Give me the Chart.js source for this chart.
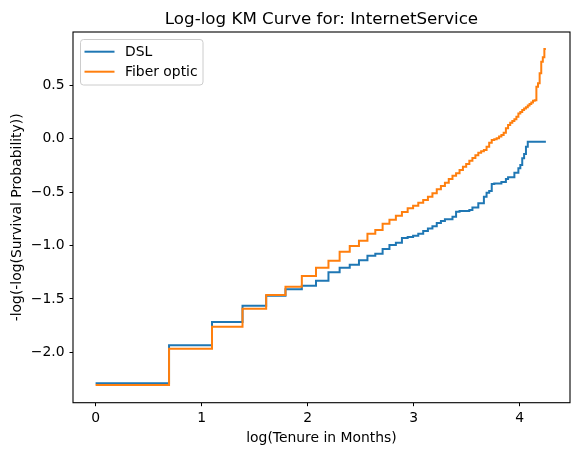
<!DOCTYPE html>
<html>
<head>
<meta charset="utf-8">
<script src="https://cdn.jsdelivr.net/npm/chart.js@4.4.1/dist/chart.umd.min.js"></script>
<style>
  html, body { margin: 0; padding: 0; background: #fff; }
  #grafico { display: block; }
</style>
</head>
<body>
<canvas id="grafico" width="578" height="455"></canvas>
<script>
// dados (tempo em meses, eixo x = log do tempo)
const tituloGrafico = 'Log-log KM Curve for: InternetService';
const rotuloX = 'log(Tenure in Months)';
const rotuloY = '-log(-log(Survival Probability))';
const nomesSeries = ['DSL', 'Fiber optic'];
const coresSeries = ['#1f77b4', '#ff7f0e'];

const meses = [1, 2, 3, 4, 5, 6, 7, 8, 9, 10, 11, 12, 13, 14, 15, 16, 17, 18, 19, 20,
  21, 22, 23, 24, 25, 26, 27, 28, 29, 30, 31, 32, 33, 34, 35, 36, 37, 38, 39, 40,
  41, 42, 43, 44, 45, 46, 47, 48, 49, 50, 51, 52, 53, 54, 55, 56, 57, 58, 59, 60,
  61, 62, 63, 64, 65, 66, 67, 68, 69, 70];

const valoresDSL = [-2.290, -1.934, -1.716, -1.564, -1.470, -1.410, -1.376, -1.330, -1.250, -1.208,
  -1.180, -1.138, -1.096, -1.077, -1.033, -0.995, -0.974, -0.930, -0.920, -0.908,
  -0.890, -0.865, -0.840, -0.820, -0.790, -0.770, -0.755, -0.755, -0.730, -0.683,
  -0.677, -0.677, -0.677, -0.668, -0.645, -0.645, -0.605, -0.605, -0.543, -0.505,
  -0.490, -0.425, -0.420, -0.420, -0.420, -0.405, -0.405, -0.377, -0.361, -0.361,
  -0.360, -0.318, -0.318, -0.277, -0.246, -0.184, -0.143, -0.075, -0.029, -0.029,
  -0.029, -0.029, -0.029, -0.029, -0.029, -0.029, -0.029, -0.029, -0.029, -0.029];

const valoresFibra = [-2.306, -1.966, -1.760, -1.592, -1.464, -1.386, -1.286, -1.208, -1.142, -1.058,
  -1.005, -0.955, -0.890, -0.855, -0.796, -0.758, -0.721, -0.687, -0.652, -0.627,
  -0.599, -0.574, -0.543, -0.511, -0.474, -0.443, -0.412, -0.377, -0.346, -0.324,
  -0.293, -0.262, -0.237, -0.206, -0.180, -0.155, -0.131, -0.118, -0.106, -0.075,
  -0.037, -0.012, -0.005, 0.003, 0.020, 0.034, 0.056, 0.097, 0.128, 0.150,
  0.165, 0.181, 0.206, 0.237, 0.250, 0.269, 0.282, 0.294, 0.310, 0.325,
  0.340, 0.356, 0.360, 0.487, 0.519, 0.612, 0.721, 0.762, 0.840, 0.840];

const ticksX = [0, 1, 2, 3, 4];
const rotulosTicksX = ['0', '1', '2', '3', '4'];
const ticksY = [0.5, 0.0, -0.5, -1.0, -1.5, -2.0];
const rotulosTicksY = ['0.5', '0.0', '\u22120.5', '\u22121.0', '\u22121.5', '\u22122.0'];

const fonte = 'DejaVu Sans';

function pontos(valores) {
    return meses.map((m, i) => ({ x: Math.log(m), y: valores[i] }));
}

// título, moldura e legenda no estilo matplotlib
const pluginExtras = {
    id: 'extras',
    afterDraw(chart) {
        const ctx = chart.ctx;
        const a = chart.chartArea;
        ctx.save();

        // moldura
        ctx.strokeStyle = '#000';
        ctx.lineWidth = 1.1;
        ctx.strokeRect(a.left, a.top, a.right - a.left, a.bottom - a.top);

        // título centrado sobre a área do gráfico
        ctx.fillStyle = '#000';
        ctx.font = '16.7px "' + fonte + '"';
        ctx.textAlign = 'center';
        ctx.textBaseline = 'alphabetic';
        ctx.fillText(tituloGrafico, (a.left + a.right) / 2, a.top - 8.3);

        // legenda (canto superior esquerdo)
        const lx = a.left + 7.5, ly = a.top + 7.5, lw = 122.5, lh = 45.5, r = 3;
        ctx.beginPath();
        ctx.moveTo(lx + r, ly);
        ctx.arcTo(lx + lw, ly, lx + lw, ly + lh, r);
        ctx.arcTo(lx + lw, ly + lh, lx, ly + lh, r);
        ctx.arcTo(lx, ly + lh, lx, ly, r);
        ctx.arcTo(lx, ly, lx + lw, ly, r);
        ctx.closePath();
        ctx.fillStyle = 'rgba(255,255,255,0.8)';
        ctx.fill();
        ctx.strokeStyle = '#cccccc';
        ctx.lineWidth = 1;
        ctx.stroke();

        ctx.font = '13.9px "' + fonte + '"';
        ctx.textAlign = 'left';
        ctx.textBaseline = 'middle';
        nomesSeries.forEach((nome, i) => {
            const y = ly + 12.2 + i * 20;
            ctx.strokeStyle = coresSeries[i];
            ctx.lineWidth = 2;
            ctx.beginPath();
            ctx.moveTo(lx + 4, y);
            ctx.lineTo(lx + 34, y);
            ctx.stroke();
            ctx.fillStyle = '#000';
            ctx.fillText(nome, lx + 44.5, y + 1);
        });
        ctx.restore();
    }
};

new Chart(document.getElementById('grafico'), {
    type: 'line',
    plugins: [pluginExtras],
    data: {
        datasets: [
            {
                label: nomesSeries[0],
                data: pontos(valoresDSL),
                borderColor: coresSeries[0],
                borderWidth: 2,
                stepped: 'before',
                pointRadius: 0,
                fill: false,
                order: 1
            },
            {
                label: nomesSeries[1],
                data: pontos(valoresFibra),
                borderColor: coresSeries[1],
                borderWidth: 2,
                stepped: 'before',
                pointRadius: 0,
                fill: false,
                order: 0
            }
        ]
    },
    options: {
        responsive: false,
        animation: false,
        layout: { padding: { top: 32, right: 8, left: 0, bottom: 0 } },
        plugins: {
            legend: { display: false },
            tooltip: { enabled: false },
            title: { display: false }
        },
        scales: {
            x: {
                type: 'linear',
                min: -0.213,
                max: 4.476,
                afterFit: (s) => { s.height = 52.3; },
                afterBuildTicks: (s) => { s.ticks = ticksX.map(v => ({ value: v })); },
                border: { display: false },
                grid: { drawOnChartArea: false, color: '#000', tickLength: 3.5, lineWidth: 1 },
                ticks: {
                    color: '#000',
                    padding: 4,
                    maxRotation: 0,
                    font: { family: fonte, size: 13.9 },
                    callback: (v) => rotulosTicksX[ticksX.indexOf(v)]
                },
                title: {
                    display: true,
                    text: rotuloX,
                    color: '#000',
                    font: { family: fonte, size: 13.9 },
                    padding: { top: 0, bottom: 8.5 }
                }
            },
            y: {
                type: 'linear',
                min: -2.472,
                max: 0.999,
                afterFit: (s) => { s.width = 73; },
                afterBuildTicks: (s) => { s.ticks = ticksY.map(v => ({ value: v })); },
                border: { display: false },
                grid: { drawOnChartArea: false, color: '#000', tickLength: 3.5, lineWidth: 1 },
                ticks: {
                    color: '#000',
                    padding: 5,
                    font: { family: fonte, size: 13.9 },
                    callback: (v) => rotulosTicksY[ticksY.indexOf(v)]
                },
                title: {
                    display: true,
                    text: rotuloY,
                    color: '#000',
                    font: { family: fonte, size: 13.9 },
                    padding: { top: 8.7, bottom: 0 }
                }
            }
        }
    }
});
</script>
</body>
</html>
